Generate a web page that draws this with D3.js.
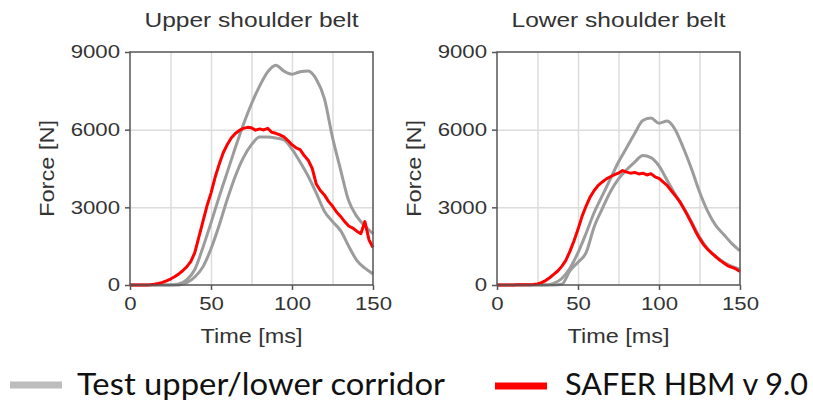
<!doctype html>
<html>
<head>
<meta charset="utf-8">
<script src="https://d3js.org/d3.v7.min.js"></script>
<style>
  body { margin: 0; background: #fff; }
  svg text { fill: #333; font-family: "Liberation Sans", Arial, sans-serif; }
  .legend text { fill: #111; font-family: Lato, "Noto Sans", sans-serif; }
</style>
</head>
<body>
<script>

// time grids (ms)
var timeTest = [0,5,10,15,20,25,30,35,40,45,50,55,60,65,70,75,80,85,90,95,100,105,110,115,120,125,130,135,140,145,150];
var timeModel = [0,2.5,5,7.5,10,12.5,15,17.5,20,22.5,25,27.5,30,32.5,35,37.5,40,42.5,45,47.5,50,52.5,55,57.5,60,62.5,65,67.5,70,72.5,75,77.5,80,82.5,85,87.5,90,92.5,95,97.5,100,102.5,105,107.5,110,112.5,115,117.5,120,122.5,125,127.5,130,132.5,135,137.5,140,142.5,145,147.5,150];

// upper shoulder belt force (N)
var upperBeltTestHigh = [0,0,0,0,0,0,40,200,600,1450,2400,3400,4350,5300,6200,7000,7680,8230,8490,8260,8140,8240,8270,7950,7200,5700,4450,3250,2650,2280,1980];
var upperBeltTestLow = [0,0,0,0,0,0,0,90,310,700,1400,2300,3300,4200,4920,5420,5720,5720,5680,5600,5250,4750,4200,3550,2850,2450,2100,1500,950,650,430];
var upperBeltModel = [0,0,0,0,0,10,30,60,100,160,230,320,420,550,700,900,1250,1850,2450,3050,3550,4150,4650,5100,5420,5680,5850,5970,6050,6090,6070,5980,6030,5990,6050,5900,5860,5800,5720,5580,5420,5300,5230,5000,4820,4500,3900,3650,3480,3230,3050,2820,2650,2450,2280,2200,2080,1980,2450,1750,1450];

// lower shoulder belt force (N)
var lowerBeltTestHigh = [0,0,0,0,0,0,0,60,250,650,1250,2000,2800,3450,4100,4750,5300,5850,6350,6450,6250,6330,6000,5300,4500,3600,2850,2300,1950,1600,1320];
var lowerBeltTestLow = [0,0,0,0,0,0,0,0,30,550,880,1250,2250,2950,3600,4100,4450,4750,5000,4920,4600,4050,3500,3000,2450,1850,1400,1100,880,720,600];
var lowerBeltModel = [0,0,0,0,0,10,10,10,10,20,40,90,170,280,410,540,720,950,1300,1700,2150,2650,3050,3400,3650,3850,3980,4100,4180,4260,4320,4420,4360,4320,4350,4290,4320,4250,4300,4180,4120,3980,3850,3650,3450,3250,2980,2700,2400,2080,1800,1560,1380,1230,1100,960,850,740,680,620,520];

var panelTitles = ["Upper shoulder belt", "Lower shoulder belt"];
var timeTicks = [0, 50, 100, 150];
var timeGrid = [25, 50, 75, 100, 125];
var forceTicks = [0, 3000, 6000, 9000];
var forceGrid = [3000, 6000];
var legendLabels = ["Test upper/lower corridor", "SAFER HBM v 9.0"];

var GRAY = "#9c9c9c", RED = "#ff0000";
var plotW = 243, plotH = 233, plotTop = 52;
var STRETCH = 1.2; // the source text is drawn wide

var svg = d3.select("body").append("svg")
  .attr("width", 813)
  .attr("height", 405);

var x = d3.scaleLinear().domain([0, 150]).range([0, plotW]);
var y = d3.scaleLinear().domain([0, 9000]).range([plotH, 0]);

var testLine = d3.line()
  .x(function(d, i) { return x(timeTest[i]); })
  .y(function(d) { return y(d); })
  .curve(d3.curveMonotoneX);

var modelLine = d3.line()
  .x(function(d, i) { return x(timeModel[i]); })
  .y(function(d) { return y(d); });

function drawPanel(left, title, high, low, model) {
  var g = svg.append("g").attr("transform", "translate(" + left + "," + plotTop + ")");

  // grid
  g.append("g")
    .attr("transform", "translate(0," + plotH + ")")
    .call(d3.axisBottom(x).tickValues(timeGrid).tickSize(-plotH).tickFormat(""))
    .call(function(a) { a.select(".domain").remove(); a.selectAll("line").attr("stroke", "#dcdcdc").attr("stroke-width", 1.5); });
  g.append("g")
    .call(d3.axisLeft(y).tickValues(forceGrid).tickSize(-plotW).tickFormat(""))
    .call(function(a) { a.select(".domain").remove(); a.selectAll("line").attr("stroke", "#dcdcdc").attr("stroke-width", 1.5); });

  // curves
  [high, low].forEach(function(s) {
    g.append("path").attr("d", testLine(s))
      .attr("fill", "none").attr("stroke", GRAY).attr("stroke-width", 3);
  });
  g.append("path").attr("d", modelLine(model))
    .attr("fill", "none").attr("stroke", RED).attr("stroke-width", 3)
    .attr("stroke-linejoin", "round");

  // frame
  g.append("rect").attr("width", plotW).attr("height", plotH)
    .attr("fill", "none").attr("stroke", "#555").attr("stroke-width", 1.5);

  // axes
  var xa = g.append("g")
    .attr("transform", "translate(0," + plotH + ")")
    .call(d3.axisBottom(x).tickValues(timeTicks).tickFormat(d3.format("d")).tickSize(5).tickPadding(7));
  var ya = g.append("g")
    .call(d3.axisLeft(y).tickValues(forceTicks).tickFormat(d3.format("d")).tickSize(5).tickPadding(5));
  [xa, ya].forEach(function(a) {
    a.select(".domain").remove();
    a.selectAll("line").attr("stroke", "#555").attr("stroke-width", 1.5);
    a.selectAll("text")
      .attr("font-size", 18.5)
      .attr("font-family", "Liberation Sans")
      .attr("x", function() { return (+this.getAttribute("x") || 0) / STRETCH; })
      .attr("transform", "scale(" + STRETCH + ",1)")
      .style("fill", "#333");
  });

  g.append("text").attr("x", plotW / 2).attr("y", 291)
    .attr("text-anchor", "middle").attr("font-size", 20)
    .attr("textLength", 102).attr("lengthAdjust", "spacingAndGlyphs").text("Time [ms]");
  g.append("text")
    .attr("transform", "translate(-76," + (plotH / 2) + ") rotate(-90)")
    .attr("text-anchor", "middle").attr("font-size", 20)
    .attr("textLength", 97).attr("lengthAdjust", "spacingAndGlyphs").text("Force [N]");
  g.append("text").attr("x", plotW / 2).attr("y", -25)
    .attr("text-anchor", "middle").attr("font-size", 21)
    .attr("textLength", 214).attr("lengthAdjust", "spacingAndGlyphs").text(title);
}

drawPanel(130, panelTitles[0], upperBeltTestHigh, upperBeltTestLow, upperBeltModel);
drawPanel(497, panelTitles[1], lowerBeltTestHigh, lowerBeltTestLow, lowerBeltModel);

// legend
var legend = svg.append("g").attr("class", "legend");
legend.append("line").attr("x1", 10).attr("x2", 62).attr("y1", 385).attr("y2", 385)
  .attr("stroke", "#bdbdbd").attr("stroke-width", 7);
legend.append("text").attr("x", 77).attr("y", 395).attr("font-size", 31)
  .attr("textLength", 368).attr("lengthAdjust", "spacingAndGlyphs").text(legendLabels[0]);
legend.append("line").attr("x1", 495).attr("x2", 547).attr("y1", 386).attr("y2", 386)
  .attr("stroke", RED).attr("stroke-width", 7);
legend.append("text").attr("x", 565).attr("y", 395).attr("font-size", 31)
  .attr("textLength", 243).attr("lengthAdjust", "spacingAndGlyphs").text(legendLabels[1]);

</script>
</body>
</html>
